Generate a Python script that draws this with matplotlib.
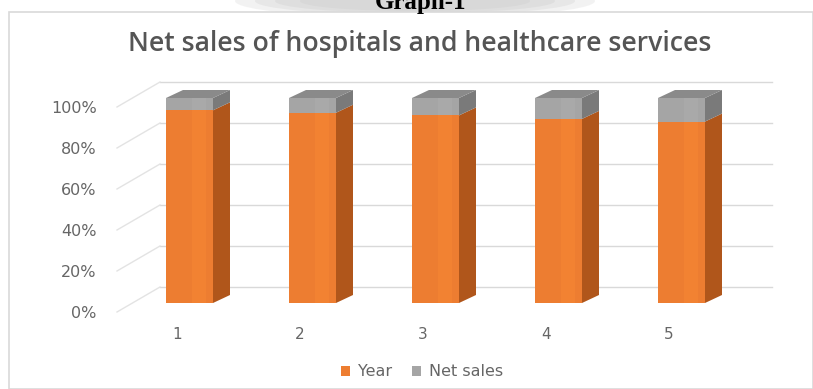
import matplotlib
matplotlib.use("Agg")
import matplotlib.pyplot as plt
from matplotlib.patches import Polygon, Patch, Rectangle, Ellipse
from matplotlib.transforms import ScaledTranslation
import numpy as np

# ---- data ----
categories = ["1", "2", "3", "4", "5"]
year_share = [94.0, 92.8, 91.5, 89.8, 88.5]          # % of stack
net_sales_share = [100 - v for v in year_share]       # remainder
ytick_labels = ["0%", "20%", "40%", "60%", "80%", "100%"]
title = "Net sales of hospitals and healthcare services"
series_names = ["Year", "Net sales"]

# ---- style ----
W, H = 813, 389
DPI = 100
ORANGE, ORANGE_SIDE = "#ED7D31", "#B0561B"
GREY, GREY_SIDE, GREY_TOP = "#A5A5A5", "#7A7A7A", "#8A8A8A"
GRID = "#D9D9D9"
TXT = "#595959"

fig = plt.figure(figsize=(W / DPI, H / DPI), dpi=DPI)
fig.patch.set_facecolor("white")

# page header area (cut-off caption above chart)
for k, (ew, eh, al) in enumerate([(360, 34, 0.25), (320, 28, 0.3), (280, 24, 0.35), (230, 20, 0.4)]):
    fig.patches.append(Ellipse((415 / W, 1 - 1 / H), ew / W, eh / H, transform=fig.transFigure,
                               facecolor="#CFCFCF", edgecolor="none", alpha=al, zorder=0))
fig.text(420 / W, 1 - 9 / H, "Graph-1", ha="center", va="baseline",
         family="Liberation Serif", weight="bold", fontsize=18, color="black", zorder=1)
# chart frame
fig.patches.append(Rectangle((9 / W, 0), (W - 9) / W, (H - 12) / H, transform=fig.transFigure,
                             facecolor="white", edgecolor=GRID, linewidth=1.2, zorder=0.5))

fig.text(420 / W, 1 - 44 / H, title, ha="center", va="center",
         family="Open Sans", weight="semibold", fontsize=19.2, color="#555555", zorder=3)

# axes: px mapping
L, R, T, B = 110, 800, 70, 320
sp = 123.0
c0 = 189.5
ax = fig.add_axes([L / W, 1 - B / H, (R - L) / W, (B - T) / H])
ax.set_zorder(2)
ax.set_xlim(-(c0 - L) / sp, 4 + (R - (c0 + 4 * sp)) / sp)
ax.set_ylim(-(B - 303) / 205, 1 + (98 - T) / 205)
ax.patch.set_visible(False)
for s in ax.spines.values():
    s.set_visible(False)

x = np.arange(len(categories))
yv = np.array(year_share) / 100
nv = np.array(net_sales_share) / 100
w = 47 / sp
ddx, ddy = 17 / sp, 8 / 205
wall_dy = 16 / 205
wall_x0, wall_x1 = (160 - c0) / sp, (772 - c0) / sp
diag_x0 = (117 - c0) / sp
lab_dy = -9 / 205

ticks = np.linspace(0, 1, 6)
for v in ticks:
    ax.plot([wall_x0, wall_x1], [v + wall_dy, v + wall_dy], color=GRID, lw=1, zorder=1)
    ax.plot([diag_x0, wall_x0], [v + lab_dy, v + wall_dy], color="#E3E3E3", lw=1, zorder=1)

# bars (front faces)
ax.bar(x, yv, width=w, color=ORANGE, zorder=3)
ax.bar(x, nv, bottom=yv, width=w, color=GREY, zorder=3)
# subtle lighter band on the front face
ax.bar(x + w * 0.2, yv, width=w * 0.3, color="#F28232", zorder=3.1, linewidth=0)
ax.bar(x + w * 0.2, nv, bottom=yv, width=w * 0.3, color="#A9A9A9", zorder=3.1, linewidth=0)

for xi, a, b in zip(x, yv, nv):
    xr = xi + w / 2
    xl = xi - w / 2
    ax.add_patch(Polygon([(xr, 0), (xr + ddx, ddy), (xr + ddx, a + ddy), (xr, a)],
                         closed=True, facecolor=ORANGE_SIDE, edgecolor="none", zorder=2.9))
    ax.add_patch(Polygon([(xr, a), (xr + ddx, a + ddy), (xr + ddx, a + b + ddy), (xr, a + b)],
                         closed=True, facecolor=GREY_SIDE, edgecolor="none", zorder=2.9))
    top = a + b
    ax.add_patch(Polygon([(xl, top), (xr, top), (xr + ddx, top + ddy), (xl + ddx, top + ddy)],
                         closed=True, facecolor=GREY_TOP, edgecolor="none", zorder=2.9))

# y tick labels (offset to the front edge of the floor)
ax.set_yticks(ticks)
ax.set_yticklabels(ytick_labels)
ax.tick_params(axis="y", length=0, pad=9.5, labelsize=11.5, labelcolor="#666666")
off_y = ScaledTranslation(0, -0.09, fig.dpi_scale_trans)
for lab in ax.get_yticklabels():
    lab.set_transform(lab.get_transform() + off_y)

ax.set_xticks(x)
ax.set_xticklabels(categories)
ax.tick_params(axis="x", length=0, pad=5, labelsize=11, labelcolor="#666666")
off_x = ScaledTranslation(-0.125, 0, fig.dpi_scale_trans)
for lab in ax.get_xticklabels():
    lab.set_transform(lab.get_transform() + off_x)

handles = [Patch(facecolor=ORANGE, edgecolor="none"), Patch(facecolor=GREY, edgecolor="none")]
fig.legend(handles, series_names, loc="center", bbox_to_anchor=(422 / W, 1 - 372 / H),
           ncol=2, frameon=False, fontsize=11.5, labelcolor="#666666", handlelength=0.6,
           handleheight=0.6, handletextpad=0.5, columnspacing=1.2)

fig.savefig("out.png", dpi=DPI, facecolor="white")
